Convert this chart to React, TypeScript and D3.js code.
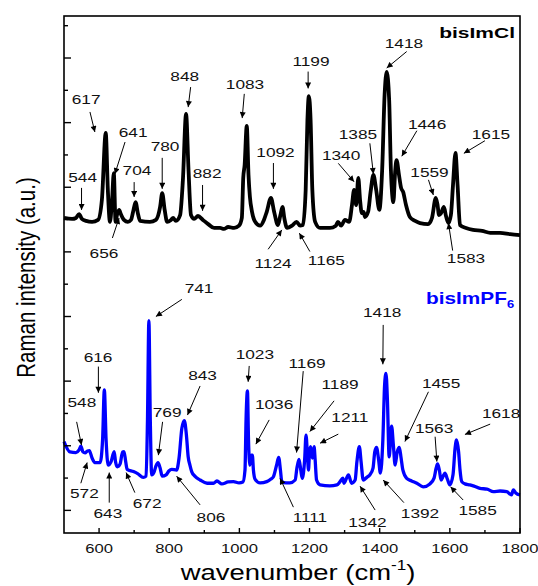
import React from 'react';
import * as d3 from 'd3';

// bisImCl spectrum (black, upper trace)
const clWavenumber = [
  500, 523, 534, 543, 551, 563, 580, 597, 608, 619, 625, 631, 637, 642, 647, 651, 657, 662, 671, 682,
  691, 697, 704, 711, 717, 745, 762, 774, 780, 787, 794, 805, 811, 819, 831, 839, 848, 855, 862, 871,
  882, 896, 911, 928, 945, 956, 968, 985, 999, 1007, 1011, 1015, 1021, 1026, 1030, 1036, 1045, 1059, 1070, 1078,
  1090, 1099, 1110, 1117, 1123, 1128, 1136, 1150, 1163, 1173, 1181, 1189, 1194, 1198, 1203, 1208, 1216, 1230, 1258, 1275,
  1281, 1290, 1301, 1313, 1321, 1327, 1333, 1339, 1344, 1349, 1354, 1358, 1367, 1374, 1382, 1390, 1399, 1407, 1414, 1420,
  1427, 1432, 1439, 1444, 1448, 1455, 1461, 1467, 1475, 1486, 1501, 1515, 1538, 1549, 1560, 1565, 1569, 1575, 1583, 1589,
  1596, 1603, 1609, 1616, 1622, 1629, 1646, 1666, 1692, 1715, 1743, 1772, 1800,
];
const clIntensity = [
  10.05, 10.02, 10.05, 10.17, 10.02, 9.96, 9.93, 9.99, 10.61, 12.68, 10.92, 9.93, 10.61, 11.44, 9.93, 10.14, 10.3, 10.17, 9.99, 9.93,
  9.99, 10.24, 10.54, 10.17, 9.96, 9.93, 9.99, 10.39, 10.82, 10.3, 9.93, 9.99, 10.05, 9.96, 10.14, 11.23, 13.27, 11.53, 10.14, 10.02,
  10.11, 9.99, 9.86, 9.74, 9.74, 9.71, 9.77, 9.74, 9.81, 10.05, 11.29, 11.69, 12.9, 11.38, 10.7, 10.24, 9.93, 9.81, 9.99, 10.24,
  10.67, 10.24, 9.83, 10.14, 10.39, 10.05, 9.74, 9.81, 9.93, 9.81, 9.83, 10.92, 13.08, 13.82, 13.08, 10.92, 9.93, 9.74, 9.74, 9.81,
  9.93, 9.81, 9.99, 9.93, 10.45, 10.92, 10.45, 11.29, 10.61, 10.2, 10.24, 10.08, 10.24, 10.85, 11.38, 10.92, 10.3, 11.53, 13.86, 14.57,
  13.7, 11.53, 10.54, 11.47, 11.84, 11.38, 10.98, 10.85, 10.45, 10.08, 9.96, 9.89, 9.86, 10.05, 10.67, 10.45, 10.14, 10.2, 10.39, 10.11,
  9.89, 10.14, 11.07, 12.06, 11.07, 9.83, 9.74, 9.68, 9.65, 9.59, 9.59, 9.55, 9.52,
];

// bisImPF6 spectrum (blue, lower trace)
const pfWavenumber = [
  500, 517, 534, 543, 548, 554, 560, 567, 572, 580, 588, 603, 610, 615, 620, 626, 634, 643, 647, 652,
  660, 667, 671, 676, 680, 698, 711, 726, 734, 738, 742, 746, 750, 757, 762, 768, 774, 780, 791, 799,
  807, 821, 828, 836, 843, 849, 854, 859, 864, 873, 888, 908, 926, 936, 950, 968, 983, 999, 1010, 1016,
  1019, 1023, 1026, 1030, 1034, 1037, 1040, 1045, 1059, 1078, 1090, 1097, 1106, 1112, 1117, 1121, 1133, 1144, 1159, 1164,
  1170, 1175, 1179, 1186, 1190, 1194, 1197, 1200, 1203, 1208, 1213, 1216, 1220, 1230, 1258, 1278, 1287, 1295, 1298, 1311,
  1320, 1330, 1335, 1342, 1347, 1353, 1364, 1372, 1381, 1386, 1391, 1397, 1402, 1409, 1414, 1418, 1422, 1427, 1431, 1434,
  1439, 1444, 1450, 1456, 1461, 1466, 1477, 1491, 1506, 1524, 1543, 1555, 1561, 1565, 1570, 1575, 1581, 1586, 1593, 1600,
  1609, 1615, 1619, 1625, 1629, 1634, 1643, 1657, 1669, 1686, 1706, 1724, 1743, 1762, 1776, 1781, 1788, 1800,
];
const pfIntensity = [
  3.13, 2.81, 2.79, 2.87, 2.99, 2.81, 2.78, 2.84, 2.85, 2.62, 2.48, 2.48, 3.18, 4.73, 3.18, 2.4, 2.5, 2.82, 2.5, 2.35,
  2.44, 2.81, 2.82, 2.5, 2.27, 2.2, 2.13, 2.02, 2.06, 3.8, 6.87, 3.8, 2.1, 2.19, 2.37, 2.48, 2.31, 2.06, 2.1, 2.22,
  2.27, 2.25, 2.62, 3.54, 3.78, 3.33, 2.66, 2.4, 2.2, 2.06, 1.94, 1.84, 1.84, 1.91, 1.82, 1.88, 1.89, 1.85, 1.88, 2.25,
  3.8, 4.7, 3.18, 2.4, 2.71, 2.71, 2.25, 1.96, 1.85, 1.89, 1.97, 2.04, 2.4, 2.64, 2.25, 1.89, 1.85, 1.85, 1.94, 2.31,
  2.58, 2.25, 1.99, 2.56, 3.33, 2.71, 2.25, 2.81, 2.97, 2.62, 2.97, 2.56, 1.94, 1.79, 1.76, 1.79, 1.89, 2.0, 1.84, 2.1,
  1.84, 1.94, 2.5, 2.97, 2.5, 1.94, 2.03, 2.1, 2.31, 2.81, 2.95, 2.56, 2.15, 3.18, 4.88, 5.24, 4.42, 2.66, 3.18, 3.61,
  3.02, 2.4, 2.81, 2.95, 2.62, 2.25, 1.99, 1.91, 1.84, 1.73, 1.82, 2.0, 2.31, 2.44, 2.25, 1.94, 2.06, 2.15, 1.97, 1.79,
  2.1, 2.93, 3.18, 2.81, 2.25, 1.89, 1.82, 1.79, 1.75, 1.68, 1.66, 1.58, 1.6, 1.58, 1.48, 1.63, 1.54, 1.48,
];

// axis ticks
const xMajorTicks = [600, 800, 1000, 1200, 1400, 1600, 1800];
const xMinorTicks = [700, 900, 1100, 1300, 1500, 1700];
const yTicks = [1, 2, 3, 4, 5, 6, 7, 8, 9, 10, 11, 12, 13, 14, 15, 16];

// peak labels: text anchor, arrow from -> to (all in wavenumber / intensity units)
const clPeaks = [
  { t: '544', at: [553, 11.16], from: [550, 10.98], to: [550, 10.3] },
  { t: '617', at: [563, 13.58], from: [574, 13.33], to: [588, 12.71] },
  { t: '641', at: [697, 12.56], from: [674, 12.4], to: [645, 11.41] },
  { t: '704', at: [708, 11.38], from: [700, 11.16], to: [700, 10.7] },
  { t: '780', at: [788, 12.12], from: [780, 11.91], to: [780, 10.95] },
  { t: '848', at: [844, 14.3], from: [861, 14.1], to: [854, 13.48] },
  { t: '882', at: [908, 11.29], from: [895, 11.07], to: [895, 10.27] },
  { t: '656', at: [614, 8.81], from: [638, 9.43], to: [657, 10.05] },
  { t: '1083', at: [1016, 14.04], from: [1014, 13.89], to: [1008, 13.14] },
  { t: '1092', at: [1103, 11.94], from: [1097, 11.75], to: [1097, 10.95] },
  { t: '1124', at: [1096, 8.5], from: [1082, 9.08], to: [1121, 9.68] },
  { t: '1165', at: [1248, 8.59], from: [1201, 9.01], to: [1171, 9.58] },
  { t: '1199', at: [1204, 14.75], from: [1196, 14.58], to: [1196, 14.06] },
  { t: '1340', at: [1290, 11.84], from: [1282, 11.74], to: [1327, 11.17] },
  { t: '1385', at: [1338, 12.49], from: [1372, 12.36], to: [1382, 11.41] },
  { t: '1418', at: [1469, 15.31], from: [1477, 15.2], to: [1420, 14.69] },
  { t: '1446', at: [1535, 12.8], from: [1506, 12.75], to: [1463, 11.96] },
  { t: '1615', at: [1717, 12.49], from: [1700, 12.44], to: [1640, 12.05] },
  { t: '1559', at: [1542, 11.33], from: [1539, 11.23], to: [1553, 10.76] },
  { t: '1583', at: [1646, 8.66], from: [1608, 9.04], to: [1596, 9.89] },
];
const pfPeaks = [
  { t: '741', at: [885, 7.72], from: [836, 7.53], to: [762, 7.0] },
  { t: '616', at: [597, 5.6], from: [598, 5.45], to: [598, 4.64] },
  { t: '548', at: [551, 4.19], from: [536, 3.74], to: [550, 3.02] },
  { t: '843', at: [895, 5.04], from: [888, 4.85], to: [852, 3.95] },
  { t: '769', at: [794, 3.9], from: [781, 3.74], to: [769, 2.71] },
  { t: '572', at: [558, 1.38], from: [548, 1.84], to: [566, 2.48] },
  { t: '643', at: [625, 0.76], from: [629, 1.24], to: [629, 2.17] },
  { t: '672', at: [737, 1.07], from: [702, 1.55], to: [677, 2.17] },
  { t: '806', at: [919, 0.65], from: [888, 1.17], to: [821, 2.06] },
  { t: '1023', at: [1044, 5.68], from: [1028, 5.47], to: [1025, 4.98] },
  { t: '1036', at: [1099, 4.13], from: [1085, 3.8], to: [1047, 3.05] },
  { t: '1111', at: [1201, 0.63], from: [1154, 1.1], to: [1116, 1.99] },
  { t: '1169', at: [1193, 5.4], from: [1182, 5.31], to: [1163, 2.79] },
  { t: '1189', at: [1287, 4.76], from: [1270, 4.39], to: [1201, 3.44] },
  { t: '1211', at: [1315, 3.74], from: [1282, 3.36], to: [1230, 3.08] },
  { t: '1342', at: [1365, 0.5], from: [1387, 1.01], to: [1344, 1.75] },
  { t: '1392', at: [1515, 0.75], from: [1469, 1.24], to: [1410, 1.94] },
  { t: '1418', at: [1407, 7.0], from: [1410, 6.74], to: [1409, 5.52] },
  { t: '1455', at: [1575, 4.78], from: [1539, 4.67], to: [1472, 3.13] },
  { t: '1563', at: [1555, 3.39], from: [1558, 3.28], to: [1563, 2.51] },
  { t: '1618', at: [1746, 3.85], from: [1715, 3.67], to: [1643, 3.35] },
  { t: '1585', at: [1679, 0.86], from: [1638, 1.32], to: [1602, 1.73] },
];

const W = 538;
const H = 586;
const margin = { top: 16, right: 18, bottom: 53, left: 64 };
const FONT = '"Liberation Sans", Arial, Helvetica, sans-serif';

// text in the original is stretched sideways, so scale x
const SText = ({ x, y, sx = 1.3, size, anchor = 'middle', weight = 'normal', fill = '#111', children }: any) => (
  <text
    transform={`translate(${x},${y}) scale(${sx},1)`}
    fontSize={size}
    fontWeight={weight}
    textAnchor={anchor}
    fill={fill}
    fontFamily={FONT}
  >
    {children}
  </text>
);

export default function App() {
  const x = d3.scaleLinear().domain([500, 1800]).range([margin.left, W - margin.right]);
  const y = d3.scaleLinear().domain([0.3, 16.3]).range([H - margin.bottom, margin.top]);

  const line = d3
    .line<number>()
    .x((d) => x(d))
    .curve(d3.curveMonotoneX);

  const clPath = line.y((_, i) => y(clIntensity[i]))(clWavenumber);
  const pfPath = line.y((_, i) => y(pfIntensity[i]))(pfWavenumber);

  const x0 = x(500);
  const x1 = x(1800);
  const yb = y(0.3);
  const yt = y(16.3);

  const drawPeaks = (peaks: any[]) =>
    peaks.map((p, i) => (
      <g key={i}>
        <line
          x1={x(p.from[0])}
          y1={y(p.from[1])}
          x2={x(p.to[0])}
          y2={y(p.to[1])}
          stroke="#000"
          strokeWidth={1}
          markerEnd="url(#ah)"
        />
        <SText x={x(p.at[0])} y={y(p.at[1])} size={12.5} sx={1.38}>
          {p.t}
        </SText>
      </g>
    ));

  return (
    <svg width={W} height={H} style={{ position: 'absolute', left: 0, top: 0, background: '#fff' }}>
      <defs>
        <marker
          id="ah"
          viewBox="0 0 10 10"
          refX="10"
          refY="5"
          markerWidth="7"
          markerHeight="6"
          markerUnits="userSpaceOnUse"
          orient="auto"
        >
          <path d="M0,0 L10,5 L0,10 z" fill="#000" />
        </marker>
      </defs>

      {/* spectra */}
      <path d={clPath || ''} fill="none" stroke="#000" strokeWidth={3.8} strokeLinejoin="round" />
      <path d={pfPath || ''} fill="none" stroke="#0000ff" strokeWidth={3.3} strokeLinejoin="round" />

      {drawPeaks(clPeaks)}
      {drawPeaks(pfPeaks)}

      {/* sample names */}
      <SText x={x1 - 5} y={yt + 22} size={15} sx={1.4} anchor="end" weight="bold" fill="#000">
        bisImCl
      </SText>
      <g transform={`translate(${x1 - 94},${y(7.39)}) scale(1.3,1)`}>
        <text fontSize={16} fontWeight="bold" fill="#0000ff" fontFamily={FONT}>
          bisImPF
          <tspan fontSize={10} dy={4}>
            6
          </tspan>
        </text>
      </g>

      {/* frame */}
      <rect x={x0} y={yt} width={x1 - x0} height={yb - yt} fill="none" stroke="#000" strokeWidth={1.6} />

      {/* y ticks, inward */}
      {yTicks.map((v) => (
        <line
          key={'y' + v}
          x1={x0}
          x2={x0 + (v % 2 === 1 ? 7 : 4)}
          y1={y(v)}
          y2={y(v)}
          stroke="#000"
          strokeWidth={1.4}
        />
      ))}

      {/* x ticks, inward */}
      {xMajorTicks.map((v) => (
        <g key={'xm' + v}>
          <line x1={x(v)} x2={x(v)} y1={yb} y2={yb - 5} stroke="#000" strokeWidth={1.4} />
          <SText x={x(v)} y={yb + 20} size={13} sx={1.28}>
            {v}
          </SText>
        </g>
      ))}
      {xMinorTicks.map((v) => (
        <line key={'xn' + v} x1={x(v)} x2={x(v)} y1={yb} y2={yb - 3} stroke="#000" strokeWidth={1.4} />
      ))}

      {/* axis titles */}
      <g transform={`translate(${(x0 + x1) / 2 + 6},${H - 6}) scale(1.22,1)`}>
        <text fontSize={22.5} textAnchor="middle" fill="#000" fontFamily={FONT}>
          wavenumber (cm
          <tspan fontSize={14} dy={-10}>
            -1
          </tspan>
          <tspan dy={10}>)</tspan>
        </text>
      </g>
      <g transform={`translate(34.5,${(yt + yb) / 2 + 3}) scale(1.3,1) rotate(-90)`}>
        <text fontSize={20.5} textAnchor="middle" fill="#000" fontFamily={FONT}>
          Raman intensity (a.u.)
        </text>
      </g>
    </svg>
  );
}
